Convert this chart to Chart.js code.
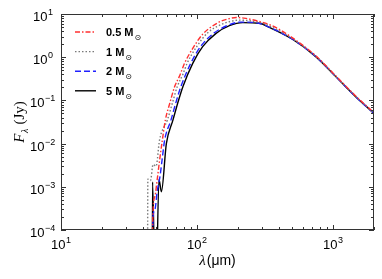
<!DOCTYPE html>
<html>
<head>
<meta charset="utf-8">
<script src="https://cdn.jsdelivr.net/npm/chart.js@4.4.0/dist/chart.umd.min.js"></script>
<style>
  html, body { margin: 0; padding: 0; background: #fff; }
</style>
</head>
<body>
<canvas id="sed" width="382" height="279"></canvas>
<script>
// ---- data (wavelength in micron, flux in Jy) ----
const lam05  = [46.8, 47.2, 49, 51, 53, 55.6, 58.5, 63, 68.4, 74.5, 80.9, 93, 110, 127, 150, 172, 194, 229, 287, 350, 476, 746, 1047, 1466, 2000];
const flux05 = [1e-6, 1.5e-4, 6e-4, 1.5e-3, 4e-3, 0.012, 0.035, 0.085, 0.207, 0.37, 0.72, 1.6, 3.4, 5.0, 6.8, 7.8, 8.3, 7.9, 6.7, 5.5, 3.15, 1.08, 0.37, 0.127, 0.052];

const lam1  = [43.2, 43.5, 45.5, 47.5, 50, 53, 60.5, 66, 71.5, 78.7, 84.5, 100, 120, 145, 175, 205, 250, 300, 350, 476, 746, 1047, 1466, 2000];
const flux1 = [1e-6, 1.5e-3, 1.4e-3, 3.3e-3, 3.0e-3, 0.012, 0.035, 0.088, 0.207, 0.4, 0.72, 1.8, 3.7, 5.4, 6.7, 7.2, 6.9, 6.2, 5.1, 3.0, 1.05, 0.36, 0.124, 0.051];

const lam2  = [47, 47.5, 49, 51, 53.5, 55.5, 57.8, 64.3, 70, 76, 89.9, 106, 133, 167, 210, 280, 340, 503, 746, 1047, 1466, 2000];
const flux2 = [1e-6, 2e-4, 3e-4, 8e-4, 1.8e-3, 4.5e-3, 0.012, 0.035, 0.09, 0.207, 0.72, 1.75, 3.6, 5.4, 6.5, 6.2, 4.95, 2.62, 1.04, 0.357, 0.122, 0.050];

const lam5  = [46.8, 47.1, 49.6, 52.5, 54.7, 59.5, 66.5, 72, 78.7, 93, 110, 138, 173, 217, 287, 340, 503, 746, 1047, 1466, 2000];
const flux5 = [1e-6, 1.3e-3, 1e-6, 1.5e-3, 7.7e-4, 0.01, 0.035, 0.085, 0.207, 0.72, 1.75, 3.57, 5.36, 6.3, 6.1, 4.9, 2.6, 1.03, 0.355, 0.122, 0.050];

const massLabels = ["0.5", "1", "2", "5"];
const xDecades = [10, 100, 1000];
const yDecades = [1e-4, 1e-3, 1e-2, 1e-1, 1, 10];

const SANS = '"Liberation Sans", Arial, sans-serif';
const SERIF = '"Liberation Serif", "Times New Roman", serif';

const styles = [
  { color: "#ff3030", dash: [5, 2, 1.5, 2] },
  { color: "#7a7a7a", dash: [1.5, 2] },
  { color: "#2020ff", dash: [6, 3] },
  { color: "#000000", dash: [] }
];

const pts = (xs, ys) => xs.map((x, i) => ({ x: x, y: ys[i] }));
const series = [pts(lam05, flux05), pts(lam1, flux1), pts(lam2, flux2), pts(lam5, flux5)];

// "10" with a raised exponent
function powLabel(ctx, exp, x, y, align) {
  ctx.font = "13px " + SANS;
  const wb = ctx.measureText("10").width;
  ctx.font = "9px " + SANS;
  const ws = ctx.measureText(String(exp)).width;
  const w = wb + ws + 0.5;
  let x0 = align === "right" ? x - w : x - w / 2;
  ctx.textAlign = "left";
  ctx.textBaseline = "alphabetic";
  ctx.font = "13px " + SANS;
  ctx.fillText("10", x0, y);
  ctx.font = "9px " + SANS;
  ctx.fillText(String(exp).replace("-", "\u2212"), x0 + wb + 0.5, y - 6);
}

const decor = {
  id: "decor",
  afterDraw(chart) {
    const { ctx, chartArea: a, scales } = chart;
    const sx = scales.x, sy = scales.y;
    ctx.save();
    ctx.fillStyle = "#000";
    ctx.strokeStyle = "#333";
    ctx.lineWidth = 1;
    ctx.setLineDash([]);

    // frame
    ctx.strokeRect(a.left + 0.5, a.top + 0.5, a.right - a.left - 1, a.bottom - a.top - 1);

    // ticks, inward on all four sides
    ctx.beginPath();
    xDecades.forEach(d => {
      for (let k = 1; k <= 9; k++) {
        const v = d * k;
        if (v > sx.max) break;
        const px = Math.round(sx.getPixelForValue(v)) + 0.5;
        const len = k === 1 ? 5 : 3;
        ctx.moveTo(px, a.bottom); ctx.lineTo(px, a.bottom - len);
        ctx.moveTo(px, a.top); ctx.lineTo(px, a.top + len);
      }
    });
    yDecades.forEach(d => {
      for (let k = 1; k <= 9; k++) {
        const v = d * k;
        if (v > sy.max) break;
        const py = Math.round(sy.getPixelForValue(v)) + 0.5;
        const len = k === 1 ? 5 : 3;
        ctx.moveTo(a.left, py); ctx.lineTo(a.left + len, py);
        ctx.moveTo(a.right, py); ctx.lineTo(a.right - len, py);
      }
    });
    ctx.stroke();

    // tick labels
    xDecades.forEach(d => {
      powLabel(ctx, Math.round(Math.log10(d)), sx.getPixelForValue(d), a.bottom + 19, "center");
    });
    yDecades.forEach(d => {
      powLabel(ctx, Math.round(Math.log10(d)), a.left - 8, sy.getPixelForValue(d) + 7, "right");
    });

    // x title: lambda(um)
    ctx.textBaseline = "alphabetic";
    ctx.textAlign = "left";
    ctx.font = "italic 15px " + SERIF;
    const wl = ctx.measureText("\u03bb").width;
    ctx.font = "14px " + SANS;
    const wu = ctx.measureText("(\u03bcm)").width;
    const xc = (a.left + a.right) / 2;
    let x0 = xc - (wl + wu + 1) / 2;
    ctx.font = "italic 15px " + SERIF;
    ctx.fillText("\u03bb", x0, 265);
    ctx.font = "14px " + SANS;
    ctx.fillText("(\u03bcm)", x0 + wl + 1, 265);

    // y title: F_lambda (Jy), rotated
    ctx.save();
    ctx.translate(24, (a.top + a.bottom) / 2);
    ctx.rotate(-Math.PI / 2);
    ctx.font = "italic 15px " + SERIF;
    const wF = ctx.measureText("F").width;
    ctx.font = "italic 10px " + SERIF;
    const wLam = ctx.measureText("\u03bb").width;
    ctx.font = "15px " + SERIF;
    const wJ = ctx.measureText(" (Jy)").width;
    let t0 = -(wF + wLam + wJ + 1) / 2;
    ctx.font = "italic 15px " + SERIF;
    ctx.fillText("F", t0, 0);
    ctx.font = "italic 10px " + SERIF;
    ctx.fillText("\u03bb", t0 + wF + 0.5, 4);
    ctx.font = "15px " + SERIF;
    ctx.fillText(" (Jy)", t0 + wF + wLam + 1, 0);
    ctx.restore();

    // legend
    massLabels.forEach((m, i) => {
      const ly = 32 + i * 19.6;
      ctx.strokeStyle = styles[i].color;
      ctx.lineWidth = 1.4;
      ctx.setLineDash(styles[i].dash);
      ctx.beginPath();
      ctx.moveTo(75, ly); ctx.lineTo(96, ly);
      ctx.stroke();
      ctx.setLineDash([]);
      ctx.fillStyle = "#000";
      ctx.font = "bold 11px " + SANS;
      const txt = m + " M";
      ctx.fillText(txt, 106, ly + 4);
      const wt = ctx.measureText(txt).width;
      ctx.font = "8px \"DejaVu Sans\", sans-serif";
      ctx.fillText("\u2299", 106 + wt + 1, ly + 8);
    });

    ctx.restore();
  }
};

new Chart(document.getElementById("sed"), {
  type: "scatter",
  data: {
    datasets: series.map((d, i) => ({
      label: massLabels[i] + " M\u2299",
      data: d,
      showLine: true,
      borderColor: styles[i].color,
      borderDash: styles[i].dash,
      borderWidth: 1.4,
      pointRadius: 0,
      cubicInterpolationMode: "monotone",
      fill: false
    }))
  },
  options: {
    responsive: false,
    animation: false,
    devicePixelRatio: 1,
    layout: { padding: { left: 61, top: 14, right: 8, bottom: 49 } },
    plugins: { legend: { display: false }, tooltip: { enabled: false } },
    scales: {
      x: { type: "logarithmic", min: 10, max: 2000, display: false },
      y: { type: "logarithmic", min: 1e-4, max: 10, display: false }
    }
  },
  plugins: [decor]
});
</script>
</body>
</html>
